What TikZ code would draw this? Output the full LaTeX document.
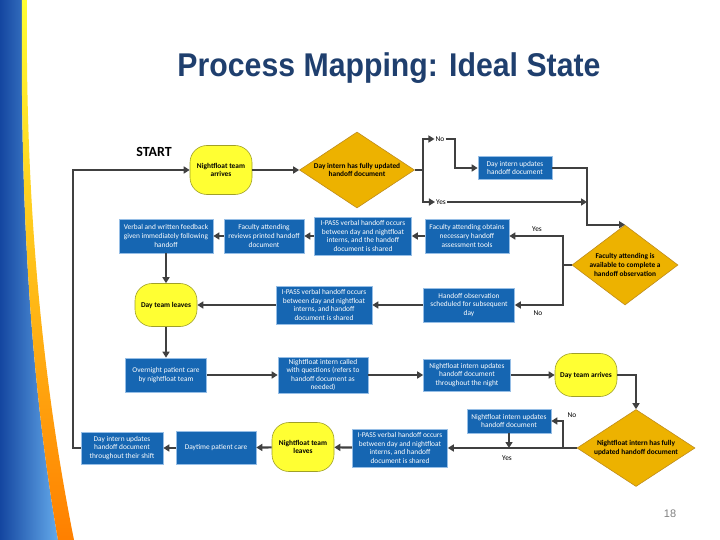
\documentclass[tikz,border=0pt]{standalone}
\usepackage{fontspec}
\usepackage{graphicx}
\usepackage{xcolor}
\usetikzlibrary{arrows.meta,shapes.geometric}
\newfontfamily\fuentecaja{Carlito}
\newfontfamily\fuentetitulo{Liberation Sans}
\definecolor{azulcaja}{RGB}{22,102,178}
\definecolor{azulborde}{RGB}{150,190,230}
\definecolor{amarillo}{RGB}{255,255,51}
\definecolor{amarilloborde}{RGB}{160,160,40}
\definecolor{oro}{RGB}{237,178,0}
\definecolor{oroborde}{RGB}{190,140,30}
\definecolor{gris}{RGB}{64,64,64}
\definecolor{titulo}{RGB}{31,63,110}
\definecolor{azuloscuro}{RGB}{20,70,160}
\definecolor{azulclaro}{RGB}{100,170,235}
\begin{document}
\begin{tikzpicture}[x=1bp,y=-1bp,
       caja/.style={rectangle, fill=azulcaja, draw=azulborde, line width=0.6bp, text=white,
                    align=center, inner sep=1bp, font=\fuentecaja\fontsize{7.4}{8.6}\selectfont},
       ovalo/.style={rectangle, rounded corners=17bp, fill=amarillo, draw=amarilloborde,
                    line width=0.6bp, minimum width=62bp, align=center,
                    font=\fuentecaja\bfseries\fontsize{7.4}{8.6}\selectfont},
       rombo/.style={diamond, fill=oro, draw=oroborde, line width=0.6bp, inner sep=0pt,
                    align=center, font=\fuentecaja\bfseries\fontsize{7.4}{8.6}\selectfont},
       flecha/.style={draw=gris, line width=2.2bp, -{Triangle[length=6bp,width=7bp]}},
       linea/.style={draw=gris, line width=2.2bp},
       etiqueta/.style={inner sep=1bp, font=\fuentecaja\fontsize{7.4}{8}\selectfont}
  ]
	\useasboundingbox (0,0) rectangle (720,540);

	%Adorno de la izquierda
	\shade[left color=azuloscuro, right color=azulclaro]
		(0,0) -- (22,0) .. controls (20,200) and (30,380) .. (58,540) -- (0,540) -- cycle;
	\shade[top color=yellow!80, bottom color=orange]
		(22,0) -- (27,0) .. controls (25,200) and (42,380) .. (74,540) -- (58,540)
		.. controls (30,380) and (20,200) .. (22,0) -- cycle;

	%Titulo y numero de pagina
	\node[text=titulo, font=\fuentetitulo\bfseries\fontsize{33}{33}\selectfont] (titulo) at (389,68)
		{\scalebox{0.92}[1]{Process Mapping: Ideal State}};
	\node[text=gray, font=\fuentetitulo\fontsize{11}{11}\selectfont] (pagina) at (670,514) {18};
	\node[font=\fuentecaja\bfseries\fontsize{14}{14}\selectfont] (inicio) at (154,152) {START};

	%Creamos los ovalos
	\node[ovalo, minimum height=49bp] (llegaNoche) at (221,170) {Nightfloat team\\arrives};
	\node[ovalo, minimum height=43bp] (saleDia) at (166,305) {Day team leaves};
	\node[ovalo, minimum height=43bp] (llegaDia) at (586,375) {Day team arrives};
	\node[ovalo, minimum height=49bp] (saleNoche) at (303,447) {Nightfloat team\\leaves};

	%Creamos los rombos
	\node[rombo, aspect=1.5, minimum width=115bp, minimum height=76bp] (r1) at (357,170)
		{Day intern has fully updated\\handoff document};
	\node[rombo, aspect=1.3, minimum width=106bp, minimum height=80bp] (r2) at (625,265)
		{Faculty attending is\\available to complete a\\handoff observation};
	\node[rombo, aspect=1.5, minimum width=118bp, minimum height=77bp] (r3) at (636,448)
		{Nightfloat intern has fully\\updated handoff document};

	%Creamos las cajas
	\node[caja, minimum width=74bp, minimum height=23bp] (c1) at (515,168) {Day intern updates\\handoff document};
	\node[caja, minimum width=84bp, minimum height=34bp] (c2) at (467,236) {Faculty attending obtains\\necessary handoff\\assessment tools};
	\node[caja, minimum width=97bp, minimum height=38bp] (c3) at (363,236) {I-PASS verbal handoff occurs\\between day and nightfloat\\interns, and the handoff\\document is shared};
	\node[caja, minimum width=80bp, minimum height=34bp] (c4) at (264,236) {Faculty attending\\reviews printed handoff\\document};
	\node[caja, minimum width=94bp, minimum height=34bp] (c5) at (166,236) {Verbal and written feedback\\given immediately following\\handoff};
	\node[caja, minimum width=96bp, minimum height=38bp] (c6) at (324,305) {I-PASS verbal handoff occurs\\between day and nightfloat\\interns, and handoff\\document is shared};
	\node[caja, minimum width=91bp, minimum height=34bp] (c7) at (469,305) {Handoff observation\\scheduled for subsequent\\day};
	\node[caja, minimum width=81bp, minimum height=34bp] (c8) at (166,375) {Overnight patient care\\by nightfloat team};
	\node[caja, minimum width=90bp, minimum height=36bp] (c9) at (323,375) {Nightfloat intern called\\with questions (refers to\\handoff document as\\needed)};
	\node[caja, minimum width=87bp, minimum height=32bp] (c10) at (467,375) {Nightfloat intern updates\\handoff document\\throughout the night};
	\node[caja, minimum width=84bp, minimum height=24bp] (c11) at (509,421) {Nightfloat intern updates\\handoff document};
	\node[caja, minimum width=95bp, minimum height=38bp] (c12) at (400,448) {I-PASS verbal handoff occurs\\between day and nightfloat\\interns, and handoff\\document is shared};
	\node[caja, minimum width=80bp, minimum height=33bp] (c13) at (216,448) {Daytime patient care};
	\node[caja, minimum width=82bp, minimum height=32bp] (c14) at (122,448) {Day intern updates\\handoff document\\throughout their shift};

	%Etiquetas Yes / No
	\node[etiqueta] (no1) at (440,139) {No};
	\node[etiqueta] (si1) at (441,202) {Yes};
	\node[etiqueta] (si2) at (537,229) {Yes};
	\node[etiqueta] (no2) at (538,313) {No};
	\node[etiqueta] (no3) at (572,415) {No};
	\node[etiqueta] (si3) at (507,458) {Yes};

	%Puntos de cruce
	\coordinate (p1) at (423,170);
	\coordinate (q1) at (455,139);
	\coordinate (j1) at (587,202);
	\coordinate (p2) at (563,265);
	\coordinate (p3) at (563,448);

	%Inicio y primer rombo
	\draw[flecha] (c14.west) -- ++(-8,0) |- (llegaNoche.west);
	\draw[flecha] (llegaNoche) -- (r1);
	\draw[linea] (r1.east) -- (p1);
	\draw[flecha] (p1) |- (no1.west);
	\draw[flecha] (p1) |- (si1.west);
	\draw[flecha] (no1.east) -- (q1) |- (c1.west);
	\draw[flecha] (si1.east) -- (j1);
	\draw[flecha] (c1.east) -| (j1) |- (r2.north);
	%Segundo rombo
	\draw[linea] (r2.west) -- (p2);
	\draw[flecha] (p2) |- (c2.east);
	\draw[flecha] (p2) |- (c7.east);
	%Fila de arriba
	\draw[flecha] (c2) -- (c3);
	\draw[flecha] (c3) -- (c4);
	\draw[flecha] (c4) -- (c5);
	\draw[flecha] (c5) -- (saleDia);
	%Fila del medio
	\draw[flecha] (c7) -- (c6);
	\draw[flecha] (c6) -- (saleDia);
	\draw[flecha] (saleDia) -- (c8);
	\draw[flecha] (c8) -- (c9);
	\draw[flecha] (c9) -- (c10);
	\draw[flecha] (c10) -- (llegaDia);
	\draw[flecha] (llegaDia.east) -| (r3.north);
	%Tercer rombo y fila de abajo
	\draw[flecha] (r3.west) -- (c12.east);
	\draw[flecha] (p3) |- (c11.east);
	\draw[flecha] (c11.south) -- (c11.south |- p3);
	\draw[flecha] (c12) -- (saleNoche);
	\draw[flecha] (saleNoche) -- (c13);
	\draw[flecha] (c13) -- (c14);
\end{tikzpicture}
\end{document}
